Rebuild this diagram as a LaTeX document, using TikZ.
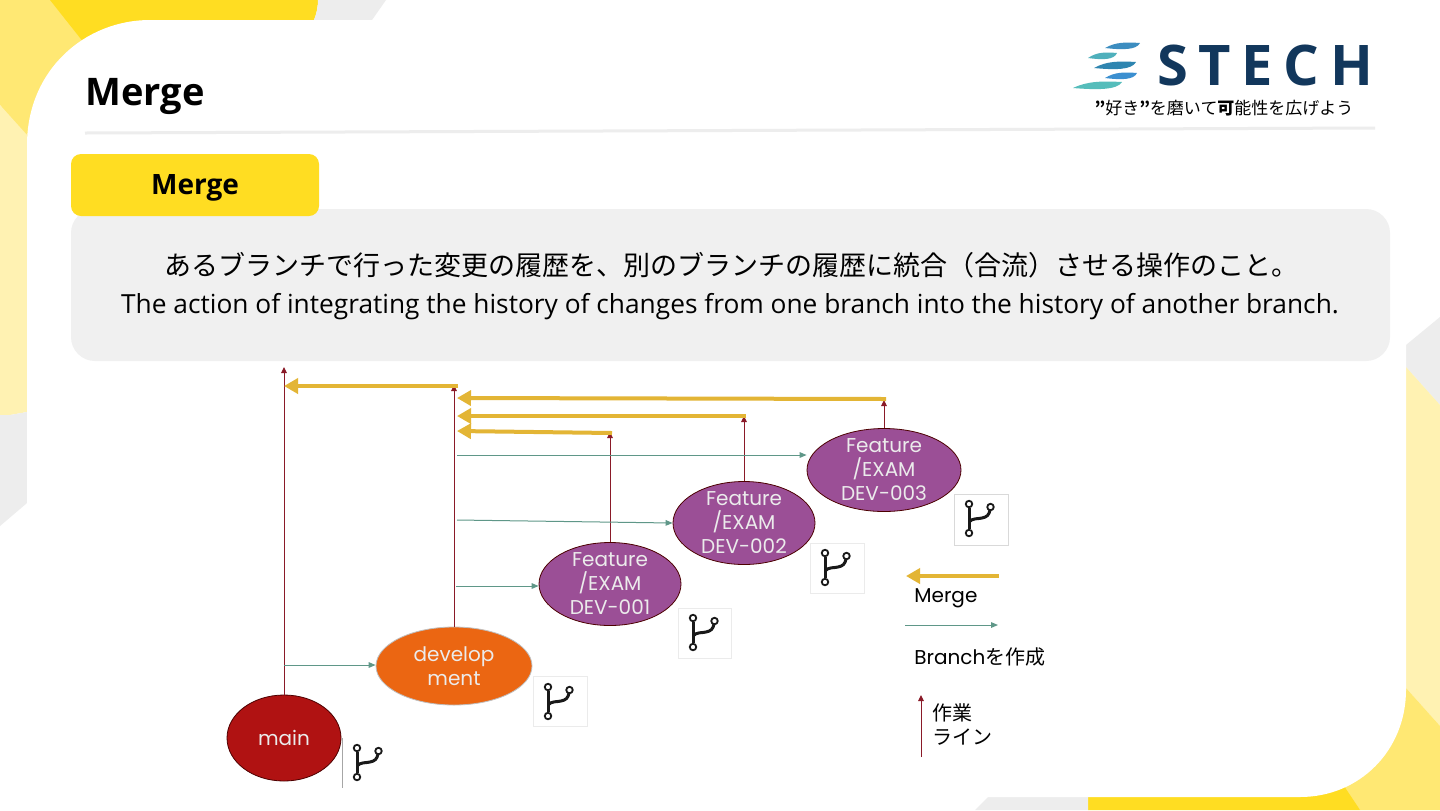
\documentclass[tikz,border=0pt]{standalone}
\usepackage{fontspec}
\usetikzlibrary{arrows.meta,shapes.geometric}
\setmainfont{Open Sans}
\newfontfamily\cjk{Noto Sans CJK JP}
\newfontfamily\gothic{Poppins}
\definecolor{sunny}{HTML}{FFDD22}
\definecolor{midyellow}{HTML}{FFE873}
\definecolor{paleyellow}{HTML}{FFF2B2}
\definecolor{softgrey}{HTML}{EDEDED}
\definecolor{panelgrey}{HTML}{F0F0F0}
\definecolor{mergegold}{HTML}{E3B535}
\definecolor{branchgreen}{HTML}{5F9788}
\definecolor{workred}{HTML}{8A1A28}
\definecolor{logonavy}{HTML}{12375C}
\definecolor{featurefill}{HTML}{9B4F96}
\definecolor{mainfill}{HTML}{B01212}
\definecolor{developfill}{HTML}{EB6612}
\tikzset{
  blob/.style={ellipse, draw=black!70!red, line width=0.4pt, inner sep=-8pt, align=center, text=white!92!black,
    font=\gothic\fontsize{10}{12}\selectfont},
  feature/.style={blob, fill=featurefill, minimum width=71pt, minimum height=41.5pt},
  mergeline/.style={draw=mergegold, line width=2pt, -{Triangle[length=7pt,width=7.5pt]}},
  branchline/.style={draw=branchgreen, line width=0.5pt, -{Triangle[length=3.5pt,width=2.8pt]}},
  workline/.style={draw=workred, line width=0.5pt, -{Triangle[length=3pt,width=2.8pt]}},
  legendtext/.style={anchor=west, inner sep=0pt, align=left, font=\gothic\fontsize{10}{12}\selectfont},
  branchicon/.pic={
    \draw[black!90, line width=1.5pt] (15,14) -- (15,35);
    \draw[black!90, line width=1.5pt] (15,28) .. controls (18,24) and (24,25) .. (28,24) .. controls (33,23) and (35,21) .. (36,16);
    \draw[black!90, line width=0.9pt, fill=white] (15,10) circle (6.5*0.5);
    \draw[black!90, line width=0.9pt, fill=white] (36.5,13) circle (6.5*0.5);
    \draw[black!90, line width=0.9pt, fill=white] (15,39) circle (6.5*0.5);
  }
}
\begin{document}
\begin{tikzpicture}[x=0.5pt,y=-0.5pt]
    \useasboundingbox (0,0) rectangle (1440,810);
    \fill[white] (0,0) rectangle (1440,810);
    \fill[midyellow] (0,0) -- (60,0) -- (95,50) -- (27,140) -- (0,105) -- cycle;
    \fill[sunny] (50,0) -- (318,0) .. controls (318,8) and (316,15) .. (314,20) -- (150,30) -- (88,48) -- cycle;
    \fill[softgrey] (318,0) -- (386,0) -- (372,20) -- (314,20) .. controls (316,15) and (318,8) .. (318,0) -- cycle;
    \fill[paleyellow] (0,105) -- (27,135) -- (27,412) -- (10,415) -- (0,415) -- cycle;
    \fill[softgrey] (0,415) -- (10,415) -- (27,412) -- (27,503) -- (0,526) -- cycle;
    \fill[softgrey] (1440,317) -- (1406,345) -- (1406,367) -- (1440,405) -- cycle;
    \fill[paleyellow] (1406,367) -- (1440,405) -- (1440,726) -- (1406,688) -- cycle;
    \fill[midyellow] (1406,688) -- (1440,726) -- (1440,810) -- (1360,810) -- (1330,780) -- cycle;
    \fill[sunny] (1088,797) -- (1300,797) -- (1340,780) -- (1360,810) -- (1088,810) -- cycle;
    \fill[softgrey] (975,810) -- (988,797) -- (1088,797) -- (1088,810) -- cycle;
    \fill[white] (27,810) -- (27,145) .. controls (27,70) and (85,20) .. (150,20) -- (1406,20)
      -- (1406,690) .. controls (1406,750) and (1360,797) .. (1300,797) -- (975,797) -- (975,810) -- cycle;

    \node[anchor=west, inner sep=0pt, font=\fontsize{19}{22}\selectfont\bfseries] (title) at (85,96) {Merge};
    \draw[softgrey, line width=1.5pt] (85,133) -- (1375,128);

    \foreach \xa/\xb/\ya/\yb/\shade in {1105/1140/43/48/3C8DC0, 1088/1117/53/58/4FB0BC, 1094/1136/62/68/2E85B0, 1105/1137/73/78/3B8FD0, 1073/1122/82/88/55BDBB}
      \definecolor{streak}{HTML}{\shade}
      \fill[streak] (\xa,\yb) .. controls ({\xa+0.3*(\xb-\xa)},{\ya-1}) and ({\xa+0.6*(\xb-\xa)},{\ya-1}) .. (\xb,\ya) .. controls ({\xb-0.1*(\xb-\xa)},{\yb+2}) and ({\xb-0.5*(\xb-\xa)},{\yb+2}) .. (\xa,\yb) -- cycle;
    \node[anchor=west, inner sep=0pt, text=logonavy, font=\fontsize{28}{30}\selectfont\bfseries\addfontfeature{LetterSpace=19}] (logo) at (1157,65) {STECH};
    \node[inner sep=0pt, font=\cjk\fontsize{8.5}{10}\selectfont] (slogan) at (1224,108) {{\bfseries ”}好き{\bfseries ”}を磨いて{\bfseries 可}能性を広げよう};

    \fill[panelgrey, rounded corners=12pt] (71,209) rectangle (1390,361);
    \fill[sunny, rounded corners=5pt] (71,154) rectangle (319,216);
    \node[font=\fontsize{14}{16}\selectfont\bfseries] (tab) at (195,188) {Merge};
    \node[font=\cjk\fontsize{13.5}{16}\selectfont] (jatext) at (731,265) {あるブランチで行った変更の履歴を、別のブランチの履歴に統合（合流）させる操作のこと。};
    \node[font=\fontsize{13.15}{15}\selectfont] (entext) at (730,307) {The action of integrating the history of changes from one branch into the history of another branch.};

    \node[blob, fill=mainfill, minimum width=57pt, minimum height=43pt] (main) at (284,738) {main};
    \node[blob, fill=developfill, draw=black!25, minimum width=78pt, minimum height=39pt] (develop) at (454,666) {develop\\ment};
    \node[feature] (dev1) at (610,584) {Feature\\/EXAM\\DEV-001};
    \node[feature] (dev2) at (744,523) {Feature\\/EXAM\\DEV-002};
    \node[feature, minimum width=77pt] (dev3) at (884,470) {Feature\\/EXAM\\DEV-003};

    \coordinate (maintop) at (284,367);
    \coordinate (developtop) at (454,385);
    \coordinate (dev1top) at (610,432);
    \coordinate (dev2top) at (744,416);
    \coordinate (dev3top) at (884,400);
    \draw[workline] (main) -- (maintop);
    \draw[workline] (develop) -- (developtop);
    \draw[workline] (dev1) -- (dev1top);
    \draw[workline] (dev2) -- (dev2top);
    \draw[workline] (dev3) -- (dev3top);

    \coordinate (mergedev) at (458,386);
    \coordinate (mergedevend) at (284,386);
    \coordinate (merge1) at (612,433);
    \coordinate (merge1end) at (457,431);
    \coordinate (merge2) at (746,416);
    \coordinate (merge2end) at (457,416);
    \coordinate (merge3) at (886,399);
    \coordinate (merge3end) at (457,398);
    \draw[mergeline] (mergedev) -- (mergedevend);
    \draw[mergeline] (merge1) -- (merge1end);
    \draw[mergeline] (merge2) -- (merge2end);
    \draw[mergeline] (merge3) -- (merge3end);

    \coordinate (branchmain) at (284,665);
    \coordinate (branch1) at (456,586);
    \coordinate (branch2) at (457,520);
    \coordinate (branch3) at (457,455);
    \draw[branchline] (branchmain) -- (develop.west |- branchmain);
    \draw[branchline] (branch1) -- (dev1.west |- branch1);
    \draw[branchline] (branch2) -- (dev2.west);
    \draw[branchline] (branch3) -- (dev3.west |- branch3);

    \draw[black!35, line width=0.3pt] (342,738) -- (342,788);
    \draw[black!8, line width=0.3pt] (533,676) rectangle (587,726);
    \draw[black!8, line width=0.3pt] (678,608) rectangle (731,658);
    \draw[black!8, line width=0.3pt] (810,543) rectangle (864,593);
    \draw[black!15, line width=0.3pt] (954,494) rectangle (1008,545);
    \pic at (342,738) {branchicon};
    \pic at (533,677) {branchicon};
    \pic at (678,608) {branchicon};
    \pic at (810,543) {branchicon};
    \pic at (954,494) {branchicon};

    \coordinate (legmergea) at (999,576);
    \coordinate (legmergeb) at (906,576);
    \draw[mergeline] (legmergea) -- (legmergeb);
    \node[legendtext] (legmerge) at (914,598) {Merge};
    \coordinate (legbrancha) at (905,625);
    \coordinate (legbranchb) at (998,625);
    \draw[branchline] (legbrancha) -- (legbranchb);
    \node[legendtext] (legbranch) at (914,657) {Branch{\cjk を作成}};
    \coordinate (legworka) at (921,757);
    \coordinate (legworkb) at (921,695);
    \draw[workline] (legworka) -- (legworkb);
    \node[legendtext, font=\cjk\fontsize{10}{12}\selectfont] (legwork) at (932,724) {作業\\ライン};
  \end{tikzpicture}
\end{document}
